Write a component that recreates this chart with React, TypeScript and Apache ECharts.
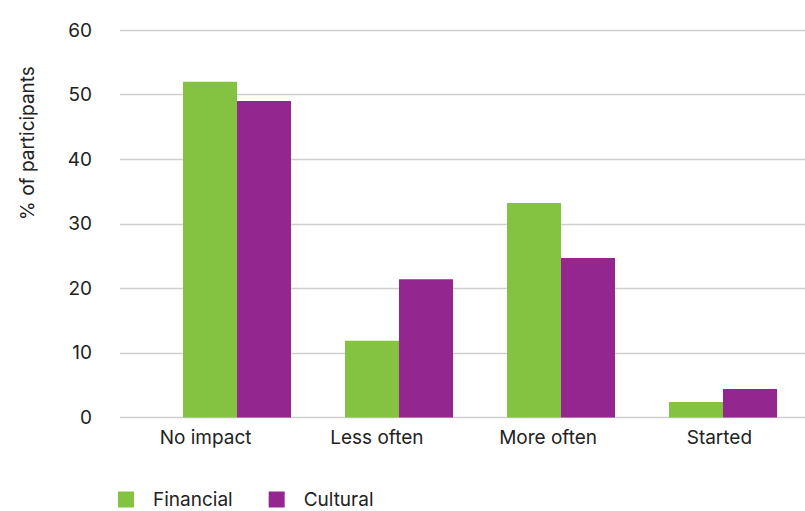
import React, { useEffect, useRef } from "react";
import * as echarts from "echarts";

const categories = ["No impact", "Less often", "More often", "Started"];
const financial = [52, 11.9, 33.2, 2.4];
const cultural = [49, 21.4, 24.7, 4.4];
const yTicks = { min: 0, max: 60, interval: 10 };

const FONT = "Inter, 'Noto Sans', sans-serif";

export default function App() {
  const ref = useRef<HTMLDivElement>(null);
  useEffect(() => {
    if (!ref.current) return;
    const chart = echarts.init(ref.current, null, { renderer: "svg" });
    chart.setOption({
      animation: false,
      backgroundColor: "#ffffff",
      textStyle: { fontFamily: FONT },
      grid: [
        { left: 120, right: 0, top: 30, bottom: 93.5 },
        { left: 156, width: 648, top: 30, bottom: 93.5 },
      ],
      legend: {
        left: 118,
        top: 490,
        padding: 0,
        itemWidth: 16,
        itemHeight: 16,
        itemGap: 36,
        icon: "rect",
        textStyle: {
          fontSize: 19,
          lineHeight: 16,
          color: "#222",
          fontFamily: FONT,
          padding: [0, 0, 0, 14],
        },
        data: ["Financial", "Cultural"],
      },
      xAxis: [
        {
          type: "category",
          gridIndex: 0,
          data: categories,
          axisLine: { show: false },
          axisTick: { show: false },
          axisLabel: { fontSize: 19, color: "#222", margin: 10, fontFamily: FONT },
        },
        {
          type: "category",
          gridIndex: 1,
          data: categories,
          show: false,
        },
      ],
      yAxis: [
        {
          type: "value",
          gridIndex: 0,
          ...yTicks,
          axisLine: { show: false },
          axisTick: { show: false },
          axisLabel: { fontSize: 19, color: "#222", margin: 28, fontFamily: FONT },
          splitLine: { lineStyle: { color: "#cfcfcf", width: 1.3 } },
        },
        {
          type: "value",
          gridIndex: 1,
          ...yTicks,
          show: false,
          splitLine: { show: false },
        },
      ],
      graphic: [
        {
          type: "text",
          x: 27,
          y: 143,
          rotation: Math.PI / 2,
          style: {
            text: "% of participants",
            fontSize: 19,
            fill: "#222",
            fontFamily: FONT,
            align: "center",
            verticalAlign: "middle",
          },
        },
      ],
      series: [
        {
          name: "Financial",
          type: "bar",
          xAxisIndex: 1,
          yAxisIndex: 1,
          data: financial,
          barWidth: 54,
          barGap: "0%",
          itemStyle: { color: "#84C341" },
        },
        {
          name: "Cultural",
          type: "bar",
          xAxisIndex: 1,
          yAxisIndex: 1,
          data: cultural,
          barWidth: 54,
          barGap: "0%",
          itemStyle: { color: "#93278F" },
        },
      ],
    });
    return () => chart.dispose();
  }, []);
  return (
    <div
      ref={ref}
      style={{ position: "fixed", left: 0, top: 0, width: 805, height: 511 }}
    />
  );
}
